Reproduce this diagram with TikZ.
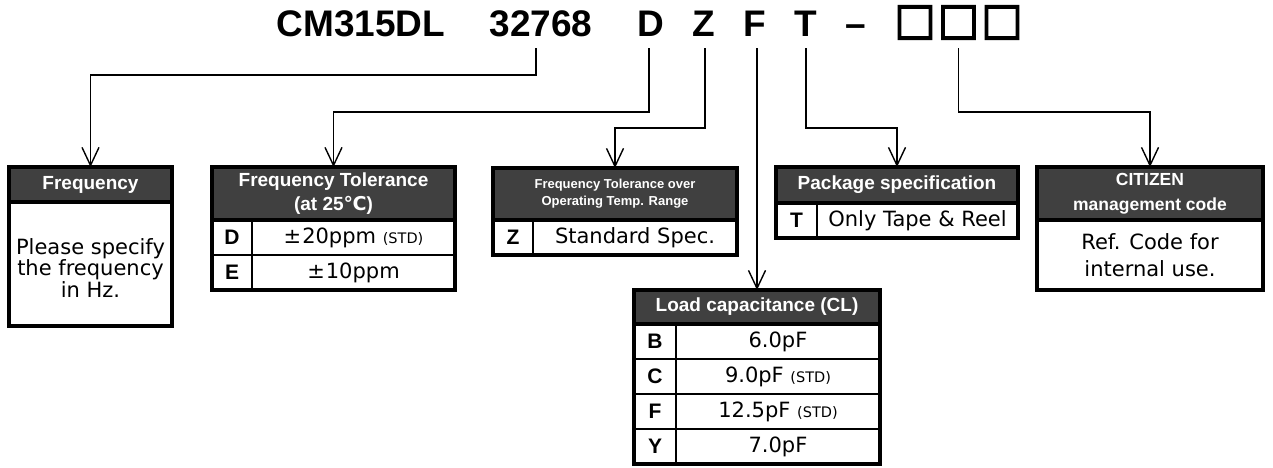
\documentclass[tikz,border=0pt]{standalone}
\usepackage{fontspec}
\setmainfont{DejaVu Sans}
\newfontfamily\hdfont{Liberation Sans}
\newfontfamily\symfont{DejaVu Sans}
\newfontfamily\sqfont[FakeBold=3]{DejaVu Sans}
\usetikzlibrary{arrows.meta}
\definecolor{hdrgray}{RGB}{64,64,64}
\newcommand{\stdtag}[1]{{\fontsize{14.5}{16}\selectfont #1}}
\begin{document}
\begin{tikzpicture}[x=1pt,y=-1pt,
  frame/.style={draw=black,line width=3.2pt},
  hdr/.style={fill=hdrgray,draw=black,line width=3.2pt,text=white,inner sep=0pt,outer sep=0pt,align=center,font=\hdfont\bfseries\fontsize{19}{24}\selectfont},
  cell/.style={draw=black,line width=2pt,inner sep=0pt,outer sep=0pt,align=center,font=\fontsize{21}{24}\selectfont},
  keycell/.style={cell,font=\hdfont\bfseries\fontsize{21}{24}\selectfont},
  conn/.style={line width=1.4pt,-{Straight Barb[length=18pt,width=17pt,line width=1.4pt]}},
  ttl/.style={inner sep=0pt,anchor=base,font=\hdfont\bfseries\fontsize{37}{40}\selectfont},
  sq/.style={inner sep=0pt,anchor=center,font=\sqfont\fontsize{44}{44}\selectfont}]
\useasboundingbox (0,0) rectangle (1273,467);
% title
\node[ttl] (tCM) at (361,36) {CM315DL};
\node[ttl] (tNum) at (541,36) {32768};
\node[ttl] (tD) at (650.5,36) {D};
\node[ttl] (tZ) at (704,36) {Z};
\node[ttl] (tF) at (755,36) {F};
\node[ttl] (tT) at (806,36) {T};
\node[ttl] (tDash) at (855.5,36) {–};
\node[sq] (tS1) at (915,22.5) {□};
\node[sq] (tS2) at (958.5,22.5) {□};
\node[sq] (tS3) at (1002,22.5) {□};
% Frequency
\node[cell,minimum width=163,minimum height=124] (freqB) at (90.5,264) {};
\node[inner sep=0pt,align=center,font=\fontsize{21}{21.7}\selectfont] (freqT) at (90.5,268) {Please specify\\the frequency\\in Hz.};
\node[hdr,minimum width=163,minimum height=35] (freqH) at (90.5,184.5) {Frequency};
\draw[frame] (freqH.north west) rectangle (freqB.south east);
% Frequency tolerance
\node[keycell,minimum width=40,minimum height=35] (tolDk) at (232,237.5) {D};
\node[cell,minimum width=203,minimum height=35] (tolDv) at (353.5,237.5) {±\kern1pt20ppm \stdtag{(STD)}};
\node[keycell,minimum width=40,minimum height=35] (tolEk) at (232,272.5) {E};
\node[cell,minimum width=203,minimum height=35] (tolEv) at (353.5,272.5) {±\kern1pt10ppm};
\node[hdr,minimum width=243,minimum height=53] (tolH) at (333.5,193.5) {Frequency Tolerance\\(at 25{\symfont ℃})};
\draw[frame] (tolH.north west) rectangle (tolEv.south east);
% over temp
\node[keycell,minimum width=40,minimum height=35] (zk) at (513,237.5) {Z};
\node[cell,minimum width=204,minimum height=35] (zv) at (635,237.5) {Standard Spec.};
\node[hdr,minimum width=244,minimum height=52,font=\hdfont\bfseries\fontsize{13}{17}\selectfont] (zH) at (615,194) {Frequency Tolerance over\\Operating Temp. Range};
\draw[frame] (zH.north west) rectangle (zv.south east);
% package
\node[keycell,minimum width=41,minimum height=35] (pk) at (796.5,220.5) {T};
\node[cell,minimum width=201,minimum height=35] (pv) at (917.5,220.5) {Only Tape \& Reel};
\node[hdr,minimum width=242,minimum height=36] (pkgH) at (897,185) {Package specification};
\draw[frame] (pkgH.north west) rectangle (pv.south east);
% citizen
\node[cell,minimum width=226,minimum height=70,font=\fontsize{21}{27}\selectfont] (citB) at (1150,255) {Ref. Code for\\internal use.};
\node[hdr,minimum width=226,minimum height=53,font=\hdfont\bfseries\fontsize{17.5}{25}\selectfont] (citH) at (1150,193.5) {CITIZEN\\management code};
\draw[frame] (citH.north west) rectangle (citB.south east);
% load capacitance
\node[keycell,minimum width=42,minimum height=35] (lBk) at (655,341.5) {B};
\node[cell,minimum width=204,minimum height=35] (lBv) at (778,341.5) {6.0pF};
\node[keycell,minimum width=42,minimum height=35] (lCk) at (655,376.5) {C};
\node[cell,minimum width=204,minimum height=35] (lCv) at (778,376.5) {9.0pF \stdtag{(STD)}};
\node[keycell,minimum width=42,minimum height=35] (lFk) at (655,411.5) {F};
\node[cell,minimum width=204,minimum height=35] (lFv) at (778,411.5) {12.5pF \stdtag{(STD)}};
\node[keycell,minimum width=42,minimum height=35] (lYk) at (655,446.5) {Y};
\node[cell,minimum width=204,minimum height=35] (lYv) at (778,446.5) {7.0pF};
\node[hdr,minimum width=246,minimum height=34] (loadH) at (757,307) {Load capacitance (CL)};
\draw[frame] (loadH.north west) rectangle (lYv.south east);
% connectors
\coordinate (c1) at (536,48);
\coordinate (c2) at (649,48);
\coordinate (c3) at (705,48);
\coordinate (c4) at (757,48);
\coordinate (c5) at (806,48);
\coordinate (c6) at (958.5,48);
\draw[conn] (c1) -- (c1 |- 0,75) -| (freqH.north);
\draw[conn] (c2) -- (c2 |- 0,112) -| (tolH.north);
\draw[conn] (c3) -- (c3 |- 0,128) -| (zH.north);
\draw[conn] (c4) -- (loadH.north);
\draw[conn] (c5) -- (c5 |- 0,128) -| (pkgH.north);
\draw[conn] (c6) -- (c6 |- 0,112) -| (citH.north);
\end{tikzpicture}
\end{document}
